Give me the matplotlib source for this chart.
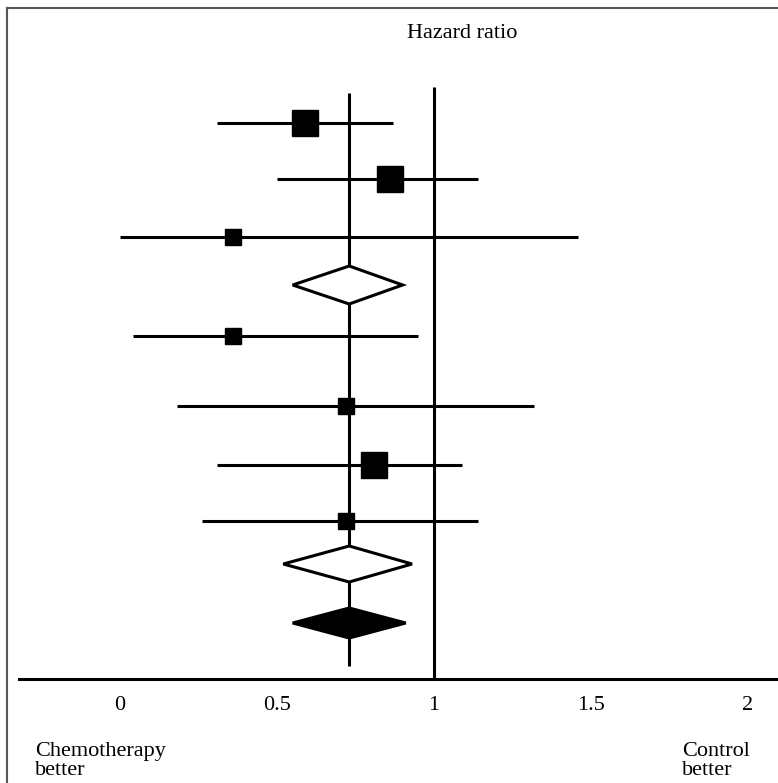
import matplotlib.pyplot as plt
from matplotlib.lines import Line2D
from matplotlib.patches import Polygon
import numpy as np

plt.rcParams['font.family'] = ['Liberation Serif', 'DejaVu Serif']

# individual studies (hazard ratio, 95% CI), rows top to bottom
study_row = [123, 179, 237, 336, 406, 465, 521]
study_hr = [0.59, 0.86, 0.36, 0.36, 0.72, 0.81, 0.72]
study_lo = [0.31, 0.50, 0.00, 0.04, 0.18, 0.31, 0.26]
study_hi = [0.87, 1.14, 1.46, 0.95, 1.32, 1.09, 1.14]
study_weight = [9, 9, 4, 4, 4, 9, 4]

# pooled estimates (two subgroups + overall)
pooled_row = [285, 564, 623]
pooled_hr = [0.73, 0.73, 0.73]
pooled_lo = [0.55, 0.52, 0.55]
pooled_hi = [0.90, 0.93, 0.91]
pooled_filled = [False, False, True]

tick_vals = [0, 0.5, 1, 1.5, 2]
tick_text = ['0', '0.5', '1', '1.5', '2']

W, H = 778, 783
fig = plt.figure(figsize=(W / 100, H / 100), dpi=100)
ax = fig.add_axes([19 / W, (H - 679) / H, (W - 19) / W, 679 / H])

# pixel mapping: 0 -> x=120, 1 unit = 314 px
x0, k = 120, 314
ax.set_xlim((19 - x0) / k, (W - x0) / k)
ax.set_ylim(679, 0)

lw = 2.2
# line of no effect and pooled-estimate line
ax.vlines(1, 87, 679, color='black', lw=lw, zorder=1)
ax.vlines(pooled_hr[-1], 93, 666, color='black', lw=lw, zorder=1)

ax.hlines(study_row, study_lo, study_hi, color='black', lw=lw, zorder=2)
for y, hr, w in zip(study_row, study_hr, study_weight):
    ax.plot(hr, y, marker='s', color='black', markersize=6.1 * np.sqrt(w),
            linestyle='none', zorder=3)

half = [19, 18, 15]
for y, hr, lo, hi, filled, h in zip(pooled_row, pooled_hr, pooled_lo, pooled_hi,
                                    pooled_filled, half):
    verts = [(lo, y), (hr, y - h), (hi, y), (hr, y + h)]
    ax.add_patch(Polygon(verts, closed=True, facecolor='black' if filled else 'white',
                         edgecolor='black', lw=lw, zorder=4))

for s in ['top', 'left', 'right']:
    ax.spines[s].set_visible(False)
ax.spines['bottom'].set_linewidth(lw)
ax.set_yticks([])
ax.set_xticks(tick_vals)
ax.set_xticklabels(tick_text, fontsize=16)
ax.tick_params(axis='x', length=0, pad=12)

ax.text((462 - x0) / k, 38, 'Hazard ratio', fontsize=16, ha='center', va='baseline')
ax.text((35 - x0) / k, 742, 'Chemotherapy\nbetter', fontsize=16, ha='left', va='top',
        linespacing=1.0, clip_on=False)
ax.text((682 - x0) / k, 742, 'Control\nbetter', fontsize=16, ha='left', va='top',
        linespacing=1.0, clip_on=False)

# thin frame on the left and top edges
fig.add_artist(Line2D([7 / W, 7 / W], [0, 1 - 8 / H], transform=fig.transFigure,
                      color='#555555', lw=1.5))
fig.add_artist(Line2D([7 / W, 1], [1 - 8 / H, 1 - 8 / H], transform=fig.transFigure,
                      color='#555555', lw=1.5))

fig.savefig('out.png', dpi=100)
